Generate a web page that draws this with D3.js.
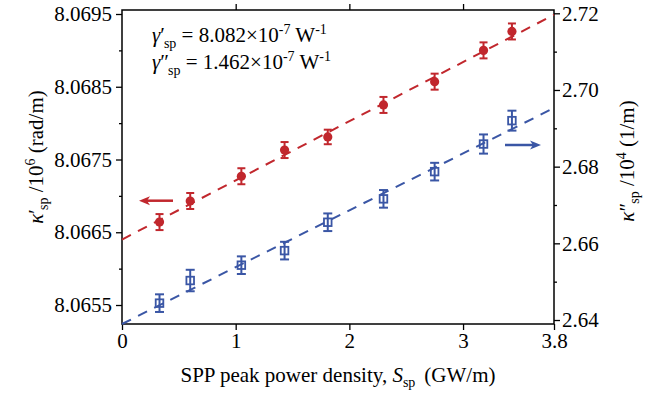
<!DOCTYPE html>
<html>
<head>
<meta charset="utf-8">
<script src="https://cdn.jsdelivr.net/npm/d3@7"></script>
</head>
<body style="margin:0">
<script>
// SPP peak power density (GW/m)
var power = [0.33, 0.6, 1.05, 1.43, 1.81, 2.3, 2.75, 3.18, 3.43];
// real part kappa' /10^6 (rad/m), left axis
var kappaReal = [8.06664, 8.06693, 8.06727, 8.06763, 8.06781, 8.06825, 8.06857, 8.06900, 8.06926];
var kappaRealErr = [0.00011, 0.00011, 0.00011, 0.00011, 0.00010, 0.00011, 0.00011, 0.00011, 0.00011];
// imaginary part kappa'' /10^4 (1/m), right axis
var kappaImag = [2.6444, 2.6503, 2.6543, 2.6581, 2.6655, 2.6716, 2.6787, 2.6859, 2.6920];
var kappaImagErr = [0.0023, 0.0028, 0.0023, 0.0023, 0.0023, 0.0023, 0.0023, 0.0025, 0.0026];
// linear fits, values at S = 0 and S = 3.8
var fitX = [0, 3.8];
var fitReal = [8.06640, 8.06949];
var fitImag = [2.63896, 2.69530];
// ticks
var xTicks = [0, 1, 2, 3, 3.8];
var leftTicks = [8.0655, 8.0665, 8.0675, 8.0685, 8.0695];
var leftMinor = [8.0660, 8.0670, 8.0680, 8.0690];
var rightTicks = [2.64, 2.66, 2.68, 2.70, 2.72];
var rightMinor = [2.65, 2.67, 2.69, 2.71];

var red = '#c1272d', blue = '#3a56a5';
var FONT = 'Liberation Serif';

const W = 668, H = 393;
const margin = { left: 122, right: 114, top: 10, bottom: 69 };

const svg = d3.select('body').append('svg')
    .attr('width', W)
    .attr('height', H);

const xScale = d3.scaleLinear().domain([0, 3.8]).range([margin.left, W - margin.right]);
const yLeft = d3.scaleLinear().domain([8.065239, 8.069555]).range([H - margin.bottom, margin.top]);
const yRight = d3.scaleLinear().domain([2.63896, 2.72086]).range([H - margin.bottom, margin.top]);

function addAxis(axis, tx, ty) {
    const g = svg.append('g')
        .attr('transform', `translate(${tx},${ty})`)
        .call(axis);
    g.select('.domain').remove();
    g.attr('font-family', null).attr('font-size', null);
    g.selectAll('line').attr('stroke', '#000').attr('stroke-width', 1.3);
    g.selectAll('text').attr('fill', '#000')
        .attr('font-family', FONT).attr('font-size', 21);
    return g;
}

// axes
addAxis(d3.axisBottom(xScale).tickValues(xTicks).tickSize(6).tickSizeOuter(0).tickPadding(3)
    .tickFormat(d => d === 3.8 ? '3.8' : d3.format('d')(d)), 0, H - margin.bottom);
addAxis(d3.axisTop(xScale).tickValues([1, 2, 3]).tickSize(6).tickSizeOuter(0).tickFormat(''), 0, margin.top);
addAxis(d3.axisLeft(yLeft).tickValues(leftTicks).tickSize(6).tickSizeOuter(0).tickPadding(4)
    .tickFormat(d3.format('.4f')), margin.left, 0);
addAxis(d3.axisLeft(yLeft).tickValues(leftMinor).tickSize(3).tickSizeOuter(0).tickFormat(''), margin.left, 0);
addAxis(d3.axisRight(yRight).tickValues(rightTicks).tickSize(6).tickSizeOuter(0).tickPadding(2)
    .tickFormat(d3.format('.2f')), W - margin.right, 0);
addAxis(d3.axisRight(yRight).tickValues(rightMinor).tickSize(3).tickSizeOuter(0).tickFormat(''), W - margin.right, 0);

// frame
svg.append('rect')
    .attr('x', margin.left)
    .attr('y', margin.top)
    .attr('width', W - margin.left - margin.right)
    .attr('height', H - margin.top - margin.bottom)
    .attr('fill', 'none')
    .attr('stroke', '#000')
    .attr('stroke-width', 1.5);

// fit lines
const fitLine = function (yScale, vals) {
    return d3.line()
        .x((d, i) => xScale(fitX[i]))
        .y((d, i) => yScale(vals[i]))(vals);
};
svg.append('path')
    .attr('d', fitLine(yLeft, fitReal))
    .attr('stroke', red).attr('stroke-width', 2).attr('stroke-dasharray', '10,8').attr('fill', 'none');
svg.append('path')
    .attr('d', fitLine(yRight, fitImag))
    .attr('stroke', blue).attr('stroke-width', 2).attr('stroke-dasharray', '10,8').attr('fill', 'none');

// error bars
function errorBars(vals, errs, yScale, color, cap) {
    const g = svg.append('g').attr('stroke', color).attr('stroke-width', 2);
    vals.forEach(function (v, i) {
        const cx = xScale(power[i]), y0 = yScale(v - errs[i]), y1 = yScale(v + errs[i]);
        g.append('line').attr('x1', cx).attr('x2', cx).attr('y1', y0).attr('y2', y1);
        g.append('line').attr('x1', cx - cap).attr('x2', cx + cap).attr('y1', y0).attr('y2', y0);
        g.append('line').attr('x1', cx - cap).attr('x2', cx + cap).attr('y1', y1).attr('y2', y1);
    });
}
errorBars(kappaReal, kappaRealErr, yLeft, red, 4);
errorBars(kappaImag, kappaImagErr, yRight, blue, 4.5);

// markers
svg.selectAll('.dotReal')
    .data(kappaReal)
    .enter().append('circle')
    .attr('class', 'dotReal')
    .attr('cx', (d, i) => xScale(power[i]))
    .attr('cy', d => yLeft(d))
    .attr('r', 4.6)
    .attr('fill', red);

svg.selectAll('.sqImag')
    .data(kappaImag)
    .enter().append('rect')
    .attr('class', 'sqImag')
    .attr('x', (d, i) => xScale(power[i]) - 3.8)
    .attr('y', d => yRight(d) - 3.8)
    .attr('width', 7.6)
    .attr('height', 7.6)
    .attr('fill', 'none')
    .attr('stroke', blue)
    .attr('stroke-width', 1.8);

// axis arrows
function arrow(x0, x1, y, color) {
    const dir = x1 > x0 ? 1 : -1;
    svg.append('line')
        .attr('x1', x0).attr('x2', x1 - dir * 8).attr('y1', y).attr('y2', y)
        .attr('stroke', color).attr('stroke-width', 2.5);
    svg.append('path')
        .attr('d', `M${x1},${y} L${x1 - dir * 11},${y - 4.5} L${x1 - dir * 8},${y} L${x1 - dir * 11},${y + 4.5} Z`)
        .attr('fill', color);
}
arrow(173, 139, 200.7, red);
arrow(505, 541, 145, blue);

// text helpers
function label(x, y) {
    return svg.append('text')
        .attr('x', x).attr('y', y)
        .attr('fill', '#000')
        .attr('font-family', FONT)
        .attr('font-size', 21);
}
function span(t, txt, size) {
    const s = t.append('tspan').attr('font-family', FONT).text(txt);
    if (size) s.attr('font-size', size);
    return s;
}

// annotation
function gammaLine(y, prime, value) {
    const t = label(152, y);
    span(t, '\u03b3').attr('font-style', 'italic');
    span(t, prime);
    span(t, 'sp', 14).attr('dy', 6).attr('dx', -1);
    span(t, ' = ' + value + '\u00d710').attr('dy', -6);
    span(t, '-7', 14).attr('dy', -8);
    span(t, ' W').attr('dy', 8);
    span(t, '-1', 14).attr('dy', -8);
}
gammaLine(41.5, '\u2032', '8.082');
gammaLine(69, '\u2033', '1.462');

// x axis title
const xt = label(xScale(1.9), 382).attr('text-anchor', 'middle');
span(xt, 'SPP peak power density, ');
span(xt, 'S').attr('font-style', 'italic');
span(xt, 'sp', 14).attr('dy', 5);
span(xt, '(GW/m)').attr('dy', -5).attr('dx', 9);

// y axis titles
function yTitle(x, y, prime, power10, unit) {
    const t = label(0, 0)
        .attr('text-anchor', 'middle')
        .attr('transform', `translate(${x},${y}) rotate(-90)`);
    span(t, '\u03ba').attr('font-style', 'italic');
    span(t, prime);
    span(t, 'sp', 14).attr('dy', 5).attr('dx', -1);
    span(t, ' /10').attr('dy', -5);
    span(t, power10, 14).attr('dy', -8);
    span(t, ' ' + unit).attr('dy', 8);
}
yTitle(43, 157, '\u2032', '6', '(rad/m)');
yTitle(634, 161, '\u2033', '4', '(1/m)');
</script>
</body>
</html>
